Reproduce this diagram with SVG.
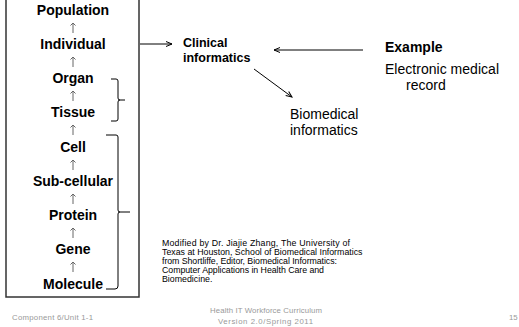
<svg xmlns="http://www.w3.org/2000/svg" width="519" height="327" viewBox="0 0 519 327">
<style>
.lvl{font-family:"Liberation Sans",Arial,sans-serif;font-weight:bold;font-size:14px;fill:#000;text-anchor:middle}
.b{font-family:"Liberation Sans",Arial,sans-serif;font-weight:bold;fill:#000}
.r{font-family:"Liberation Sans",Arial,sans-serif;fill:#000}
.n{font-family:"Liberation Sans",Arial,sans-serif;fill:#000;font-size:8.8px}
.ft{font-family:"Liberation Sans",Arial,sans-serif;fill:#999;font-size:7.8px}
.up{stroke:#666;stroke-width:1;fill:none;marker-end:url(#ua)}
.ar{stroke:#000;stroke-width:1;fill:none;marker-end:url(#oa)}
.br{stroke:#000;stroke-width:1;fill:none}
</style>
<defs>
<marker id="ua" markerWidth="6" markerHeight="6" refX="4" refY="3" orient="auto" markerUnits="userSpaceOnUse" viewBox="0 0 6 6">
<path d="M1.5,0.5 L4,3 L1.5,5.5" stroke="#666" stroke-width="1" fill="none"/>
</marker>
<marker id="oa" markerWidth="8" markerHeight="8" refX="7" refY="4" orient="auto" markerUnits="userSpaceOnUse" viewBox="0 0 8 8">
<path d="M1,1.5 L7,4 L1,6.5" stroke="#000" stroke-width="1" fill="none"/>
</marker>
</defs>
<rect x="6" y="-5" width="133" height="302" fill="#fff" stroke="#333" stroke-width="1.5"/>
<g id="population"><text class="lvl" x="73" y="15">Population</text></g>
<g id="individual"><text class="lvl" x="73" y="49">Individual</text></g>
<g id="organ"><text class="lvl" x="73" y="83">Organ</text></g>
<g id="tissue"><text class="lvl" x="73" y="117">Tissue</text></g>
<g id="cell"><text class="lvl" x="73" y="152">Cell</text></g>
<g id="subcellular"><text class="lvl" x="73" y="186">Sub-cellular</text></g>
<g id="protein"><text class="lvl" x="73" y="220">Protein</text></g>
<g id="gene"><text class="lvl" x="73" y="254">Gene</text></g>
<g id="molecule"><text class="lvl" x="73" y="289">Molecule</text></g>
<g id="clinical"><text class="b" font-size="12.5" x="183" y="47">Clinical</text><text class="b" font-size="12.5" x="183" y="62">informatics</text></g>
<g id="example"><text class="b" font-size="14" x="385" y="52">Example</text><text class="r" font-size="14" x="385" y="74" textLength="114">Electronic medical</text><text class="r" font-size="14" x="406" y="90">record</text></g>
<g id="biomedical"><text class="r" font-size="14" x="290" y="119">Biomedical</text><text class="r" font-size="14" x="290" y="135">informatics</text></g>
<g id="note">
<text class="n" x="162" y="246" textLength="188">Modified by Dr. Jiajie Zhang, The University of</text>
<text class="n" x="162" y="255">Texas at Houston, School of Biomedical Informatics</text>
<text class="n" x="162" y="264" textLength="175">from Shortliffe, Editor, Biomedical Informatics:</text>
<text class="n" x="162" y="273" textLength="162">Computer Applications  in Health Care and</text>
<text class="n" x="162" y="282">Biomedicine.</text>
</g>
<g id="footer">
<text class="ft" x="12" y="320" textLength="81">Component 6/Unit 1-1</text>
<text class="ft" x="210" y="313" textLength="112">Health IT Workforce Curriculum</text>
<text class="ft" x="218" y="324" textLength="95">Version 2.0/Spring 2011</text>
<text class="ft" x="509" y="320">15</text>
</g>
<g id="connectors">
<path class="up" d="M73,33 V23"/>
<path class="up" d="M73,67 V57"/>
<path class="up" d="M73,101 V91"/>
<path class="up" d="M73,135 V125"/>
<path class="up" d="M73,170 V160"/>
<path class="up" d="M73,204 V194"/>
<path class="up" d="M73,238 V228"/>
<path class="up" d="M73,272 V262"/>
<path class="br" d="M111,79 H116 Q118,79 118,81 V98 Q118,100 120,100 H125 M120,100 Q118,100 118,102 V119 Q118,121 116,121 H111"/>
<path class="br" d="M106,135 H116 Q118,135 118,137 V210 Q118,212 120,212 H130 M120,212 Q118,212 118,214 V286 Q118,289 115,289 H106"/>
<path class="ar" d="M140,44 H172"/>
<path class="ar" d="M363,50 H274"/>
<path class="ar" d="M254,69 L292,97"/>
</g>
</svg>
